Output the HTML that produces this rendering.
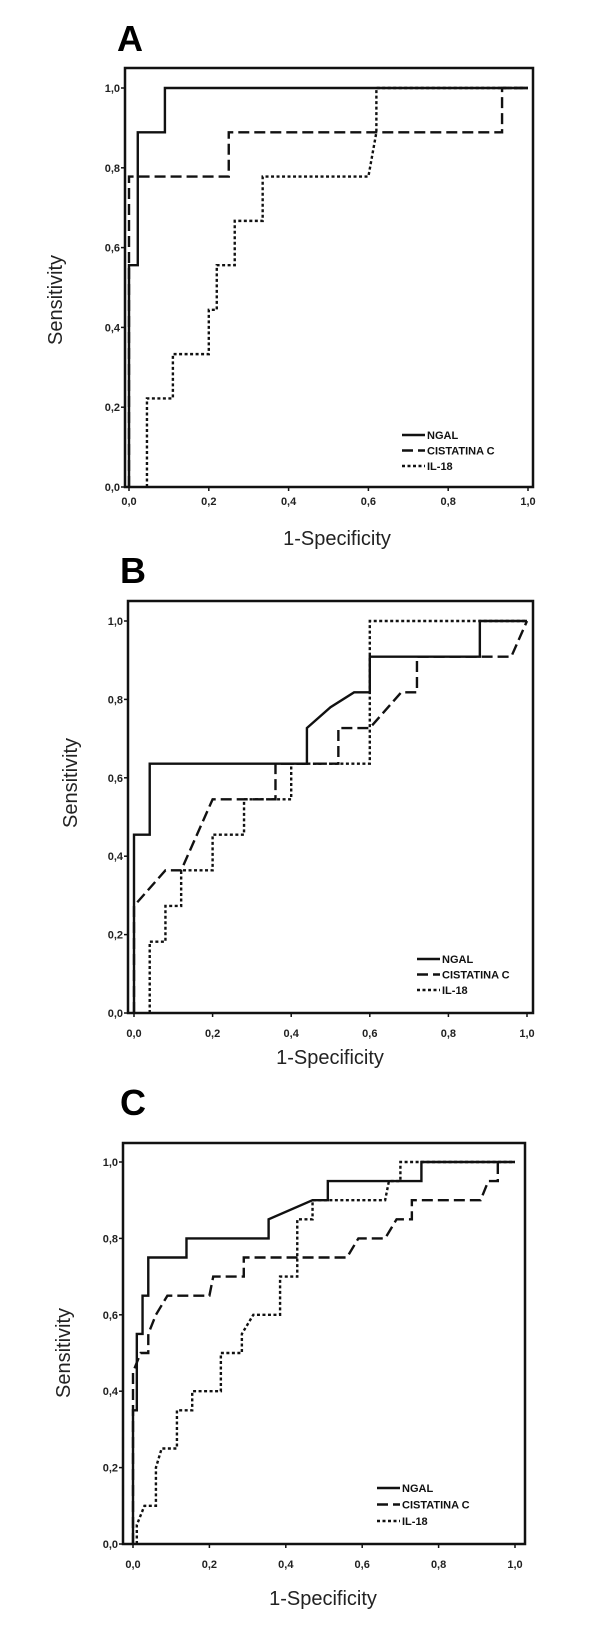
<!DOCTYPE html>
<html><head><meta charset="utf-8"><style>
body{margin:0;background:#fff;}
svg{display:block;font-family:"Liberation Sans",sans-serif;}
</style></head><body>
<svg id="chart" width="600" height="1634" viewBox="0 0 600 1634"></svg>
<script>
const tickValues=[0,0.2,0.4,0.6,0.8,1.0];
const tickLabels=["0,0","0,2","0,4","0,6","0,8","1,0"];
const seriesNames=["NGAL","CISTATINA C","IL-18"];
const aNGAL=[[0,0],[0,0.556],[0.022,0.556],[0.022,0.889],[0.09,0.889],[0.09,1],[1,1]];
const aCIST=[[0,0],[0,0.778],[0.25,0.778],[0.25,0.889],[0.935,0.889],[0.935,1],[1,1]];
const aIL18=[[0.045,0],[0.045,0.222],[0.11,0.222],[0.11,0.333],[0.2,0.333],[0.2,0.444],[0.22,0.444],[0.22,0.556],[0.265,0.556],[0.265,0.667],[0.335,0.667],[0.335,0.778],[0.6,0.778],[0.62,0.889],[0.62,1],[1,1]];
const bNGAL=[[0,0],[0,0.455],[0.04,0.455],[0.04,0.636],[0.44,0.636],[0.44,0.727],[0.5,0.78],[0.56,0.818],[0.6,0.818],[0.6,0.909],[0.88,0.909],[0.88,1],[1,1]];
const bCIST=[[0,0],[0,0.273],[0.08,0.364],[0.12,0.364],[0.2,0.545],[0.36,0.545],[0.36,0.636],[0.52,0.636],[0.52,0.727],[0.6,0.727],[0.68,0.818],[0.72,0.818],[0.72,0.909],[0.96,0.909],[1,1]];
const bIL18=[[0.04,0],[0.04,0.182],[0.08,0.182],[0.08,0.273],[0.12,0.273],[0.12,0.364],[0.2,0.364],[0.2,0.455],[0.28,0.455],[0.28,0.545],[0.4,0.545],[0.4,0.636],[0.6,0.636],[0.6,1],[1,1]];
const cNGAL=[[0,0],[0,0.35],[0.01,0.35],[0.01,0.55],[0.025,0.55],[0.025,0.65],[0.04,0.65],[0.04,0.75],[0.14,0.75],[0.14,0.8],[0.355,0.8],[0.355,0.85],[0.47,0.9],[0.51,0.9],[0.51,0.95],[0.755,0.95],[0.755,1],[1,1]];
const cCIST=[[0,0],[0,0.45],[0.02,0.5],[0.04,0.5],[0.04,0.55],[0.06,0.6],[0.09,0.65],[0.2,0.65],[0.21,0.7],[0.29,0.7],[0.29,0.75],[0.56,0.75],[0.59,0.8],[0.66,0.8],[0.69,0.85],[0.73,0.85],[0.73,0.9],[0.91,0.9],[0.93,0.95],[0.955,0.95],[0.955,1]];
const cIL18=[[0.01,0],[0.01,0.05],[0.03,0.1],[0.06,0.1],[0.06,0.2],[0.075,0.25],[0.115,0.25],[0.115,0.35],[0.155,0.35],[0.155,0.4],[0.23,0.4],[0.23,0.5],[0.285,0.5],[0.285,0.55],[0.315,0.6],[0.385,0.6],[0.385,0.7],[0.43,0.7],[0.43,0.85],[0.47,0.85],[0.47,0.9],[0.66,0.9],[0.67,0.95],[0.7,0.95],[0.7,1],[1,1]];

const NS="http://www.w3.org/2000/svg";
const svg=document.getElementById('chart');
function mk(tag,attrs,parent,txt){const e=document.createElementNS(NS,tag);for(const k in attrs)e.setAttribute(k,attrs[k]);if(txt!==undefined)e.textContent=txt;(parent||svg).appendChild(e);return e;}
const dashes=["none","11,5","3,2.5"];

const panels=[
 {id:"a",letter:"A",lx:117,ly:51,frame:[125,68,533,487],x0:129,x1:528,y0:487,y1:88,tickY:505,xlab:[337,545],sens:[62,300],leg:[402,435,15.5],data:[aNGAL,aCIST,aIL18]},
 {id:"b",letter:"B",lx:120,ly:583,frame:[128,601,533,1013],x0:134,x1:527,y0:1013,y1:621,tickY:1037,xlab:[330,1064],sens:[77,783],leg:[417,959,15.5],data:[bNGAL,bCIST,bIL18]},
 {id:"c",letter:"C",lx:120,ly:1115,frame:[123,1143,525,1544],x0:133,x1:515,y0:1544,y1:1162,tickY:1568,xlab:[323,1605],sens:[70,1353],leg:[377,1488,16.5],data:[cNGAL,cCIST,cIL18]}
];
panels.forEach(p=>{
  const g=mk('g',{});
  
  
  const xs=v=>p.x0+v*(p.x1-p.x0), ys=v=>p.y0-v*(p.y0-p.y1);
  const L=mk('text',{x:p.lx,y:p.ly,'font-size':36,'font-weight':'bold'},g,p.letter);
  
  
  const f=mk('rect',{x:p.frame[0],y:p.frame[1],width:p.frame[2]-p.frame[0],height:p.frame[3]-p.frame[1],fill:'none',stroke:'#111','stroke-width':2.5},g);
  
  
  tickValues.forEach((v,i)=>{
    mk('line',{x1:xs(v),x2:xs(v),y1:p.frame[3],y2:p.frame[3]+4,stroke:'#111','stroke-width':1.5},g);
    const tx=mk('text',{x:xs(v),y:p.tickY,'font-size':11,'font-weight':'bold','text-anchor':'middle',fill:'#222'},g,tickLabels[i]);
    
    
    mk('line',{x1:p.frame[0]-4,x2:p.frame[0],y1:ys(v),y2:ys(v),stroke:'#111','stroke-width':1.5},g);
    const ty=mk('text',{x:p.frame[0]-5,y:ys(v)+4,'font-size':11,'font-weight':'bold','text-anchor':'end',fill:'#222'},g,tickLabels[i]);
    
    
  });
  const xl=mk('text',{x:p.xlab[0],y:p.xlab[1],'font-size':20,'text-anchor':'middle',fill:'#222'},g,'1-Specificity');
  
  
  const yl=mk('text',{x:p.sens[0],y:p.sens[1],'font-size':20,'text-anchor':'middle',fill:'#222',transform:`rotate(-90 ${p.sens[0]} ${p.sens[1]})`},g,'Sensitivity');
  
  
  p.data.forEach((s,k)=>{
    const pl=mk('polyline',{points:s.map(q=>xs(q[0])+','+ys(q[1])).join(' '),fill:'none',stroke:'#111','stroke-width':2.4,'stroke-dasharray':dashes[k]},g);
    
    
    const ly=p.leg[1]+k*p.leg[2];
    const ll=mk('line',{x1:p.leg[0],x2:p.leg[0]+23,y1:ly,y2:ly,stroke:'#111','stroke-width':2.4,'stroke-dasharray':dashes[k]},g);
    
    
    const lt=mk('text',{x:p.leg[0]+25,y:ly+4,'font-size':11,'font-weight':'bold',fill:'#111'},g,seriesNames[k]);
    
    
  });
});
</script>
</body></html>
